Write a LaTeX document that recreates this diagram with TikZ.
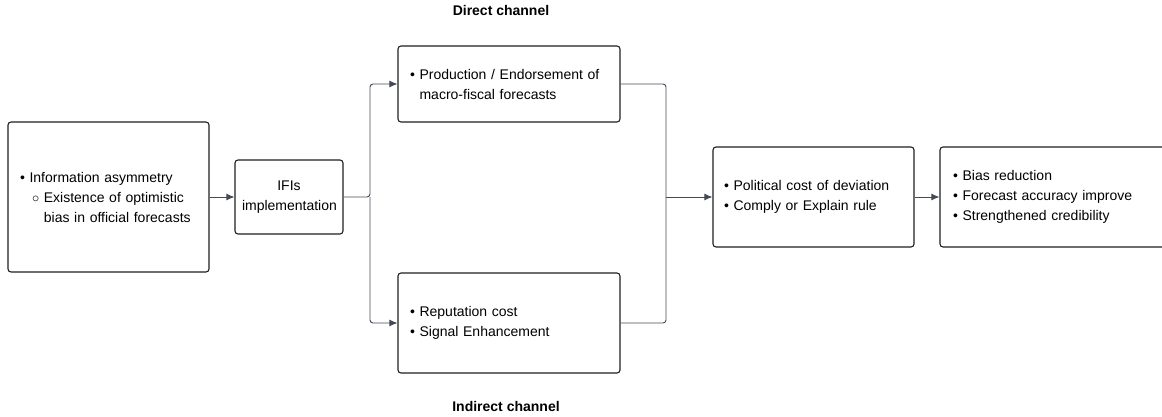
\documentclass[tikz,border=0pt]{standalone}
\usepackage{fontspec}
\setmainfont{Liberation Sans}
\usetikzlibrary{arrows.meta,positioning}
\definecolor{linkgray}{HTML}{434A56}
\definecolor{boxline}{HTML}{1F1F1F}

\begin{document}
\begin{tikzpicture}[x=1pt, y=-1pt,
    box/.style = {draw=boxline, line width=1.1pt, rounded corners=3pt,
        font=\fontsize{14}{20}\selectfont, inner xsep=12pt, inner ysep=0pt,
        align=left},
    title/.style = {font=\fontsize{14}{16}\selectfont\bfseries},
    link/.style = {draw=linkgray, line width=0.9pt, rounded corners=3pt},
    ->, >={Latex[length=8pt,width=7pt]}]
    \useasboundingbox (0,0) rectangle (1162,417);

    \node [box, minimum width=201pt, minimum height=150pt, text width=177pt] (asym) at (108.5,197)
        {\textbullet\ Information asymmetry\\
         \hspace*{12pt}$\circ$\ Existence of optimistic\\
         \hspace*{12pt}\phantom{$\circ$\ }bias in official forecasts};
    \node [box, align=center, minimum width=108pt, minimum height=74pt, text width=94pt, inner xsep=7pt] (ifi) at (289,197)
        {IFIs\\ implementation};
    \node [box, minimum width=222pt, minimum height=76pt, text width=198pt, inner xsep=12pt] (direct) at (509,84)
        {\textbullet\ Production / Endorsement of\\
         \phantom{\textbullet\ }macro-fiscal forecasts};
    \node [box, minimum width=222pt, minimum height=100pt, text width=198pt, inner xsep=12pt] (indirect) at (509,323)
        {\textbullet\ Reputation cost\\
         \textbullet\ Signal Enhancement};
    \node [box, minimum width=201pt, minimum height=100pt, text width=179pt, inner xsep=11pt] (cost) at (813.5,197)
        {\textbullet\ Political cost of deviation\\
         \textbullet\ Comply or Explain rule};
    \node [box, minimum width=240pt, minimum height=100pt, text width=214pt, inner xsep=13pt] (result) at (1060,197)
        {\textbullet\ Bias reduction\\
         \textbullet\ Forecast accuracy improve\\
         \textbullet\ Strengthened credibility};

    \node [title] (dlabel) at (501,10) {Direct channel};
    \node [title] (ilabel) at (506,406) {Indirect channel};

    % split and merge points
    \coordinate (split) at (370,197);
    \coordinate (merge) at (666,197);

    \draw [link] (asym) -- (ifi);
    \draw [link] (ifi.east) -- (split) |- (direct.west);
    \draw [link] (split) |- (indirect.west);
    \draw [link, -] (direct.east) -| (merge);
    \draw [link, -] (indirect.east) -| (merge);
    \draw [link] (merge) -- (cost.west);
    \draw [link] (cost) -- (result);
\end{tikzpicture}
\end{document}
